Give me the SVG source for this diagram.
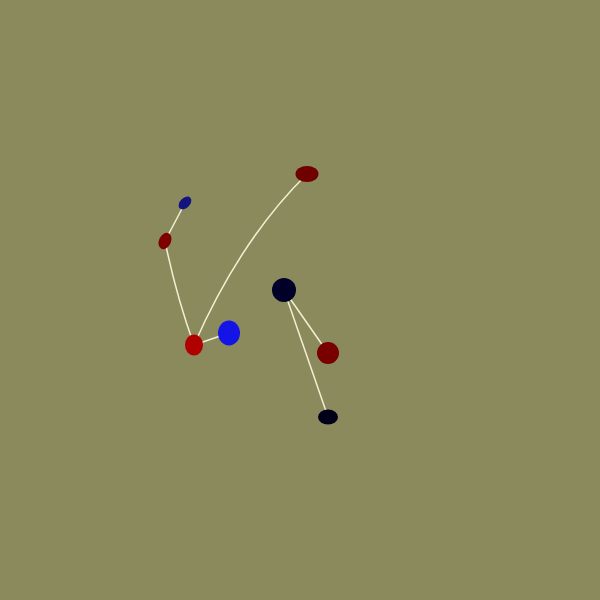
<svg xmlns="http://www.w3.org/2000/svg" width="600" height="600" viewBox="0 0 600 600">
<style>
.e{fill:none;stroke:#f2f0d2;stroke-width:1.5}
</style>
<rect width="600" height="600" fill="#8b8a5c"/>
<g id="connectors">
<path class="e" d="M185,203 L165,241"/>
<path class="e" d="M165,241 Q176,295 194,345"/>
<path class="e" d="M194,345 L229,333"/>
<path class="e" d="M307,174 Q240,240 194,345"/>
<path class="e" d="M284,290 L328,353"/>
<path class="e" d="M284,290 L328,417"/>
</g>
<g id="n1"><ellipse cx="185" cy="203" rx="7.5" ry="5" transform="rotate(-45 185 203)" fill="#141480"/></g>
<g id="n2"><ellipse cx="165" cy="241" rx="8.5" ry="6" transform="rotate(-65 165 241)" fill="#7e0000"/></g>
<g id="n3"><ellipse cx="307" cy="174" rx="11.5" ry="8" fill="#700000"/></g>
<g id="n4"><ellipse cx="194" cy="345" rx="9" ry="10.5" fill="#b00000"/></g>
<g id="n5"><ellipse cx="229" cy="333" rx="11" ry="12.5" fill="#1414e6"/></g>
<g id="n6"><circle cx="284" cy="290" r="12" fill="#000028"/></g>
<g id="n7"><ellipse cx="328" cy="353" rx="11" ry="11" fill="#780000"/></g>
<g id="n8"><ellipse cx="328" cy="417" rx="10" ry="7.5" fill="#000018"/></g>
</svg>
